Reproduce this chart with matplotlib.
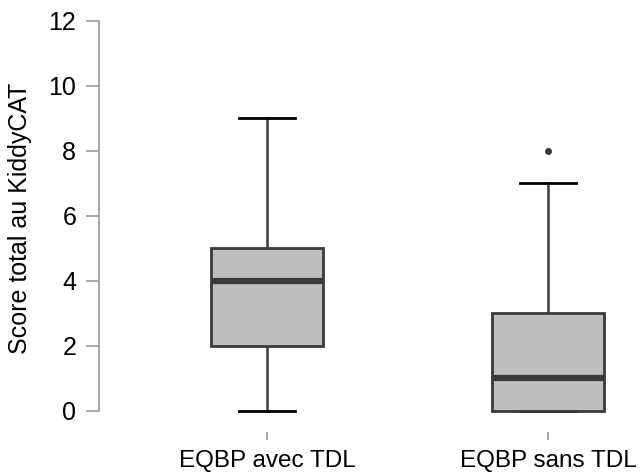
import matplotlib
matplotlib.use("Agg")
from matplotlib import pyplot as plt

plt.rcParams['font.family'] = ['Liberation Sans', 'DejaVu Sans']

groups = ['EQBP avec TDL', 'EQBP sans TDL']
whislo = [0, 0]
q1 = [2, 0]
med = [4, 1]
q3 = [5, 3]
whishi = [9, 7]
fliers = [[], [8]]
yticks = [0, 2, 4, 6, 8, 10, 12]

stats = []
for i in range(len(groups)):
    stats.append({'whislo': whislo[i], 'q1': q1[i], 'med': med[i], 'q3': q3[i],
                  'whishi': whishi[i], 'fliers': fliers[i], 'label': groups[i]})

fig = plt.figure(figsize=(6.41, 4.75), dpi=100)
# axes area: y=0 at px 411, y=12 at px 21
ax = fig.add_axes([99/641, 42.9/475, 542/641, 427.4/475])

edge = '#3a3a3a'
ax.bxp(stats, positions=[1, 2], widths=0.4, patch_artist=True,
       boxprops=dict(facecolor='#bebebe', edgecolor=edge, linewidth=2, zorder=3),
       medianprops=dict(color=edge, linewidth=4.5, solid_capstyle='butt', zorder=4),
       whiskerprops=dict(color=edge, linewidth=1.8, zorder=2),
       capprops=dict(color='black', linewidth=2, zorder=2),
       capwidths=0.2,
       flierprops=dict(marker='o', markerfacecolor=edge, markeredgecolor=edge, markersize=4))

ax.set_xlim(0.402, 2.331)
ax.set_ylim(-0.65, 12.5)
ax.set_yticks(yticks)
ax.set_xticks([1, 2])
ax.set_xticklabels(groups)

for s in ['top', 'right', 'bottom']:
    ax.spines[s].set_visible(False)
ax.spines['left'].set_bounds(0, 12)
ax.spines['left'].set_color('#999999')
ax.spines['left'].set_linewidth(1.2)

ax.tick_params(axis='y', length=9.4, width=1.2, color='#999999', labelsize=18, pad=7)
ax.tick_params(axis='x', length=5.8, width=1.2, color='#999999', labelsize=17.5, pad=7)

ax.set_ylabel('Score total au KiddyCAT', fontsize=18, labelpad=12)

fig.savefig('out.png', dpi=100)
